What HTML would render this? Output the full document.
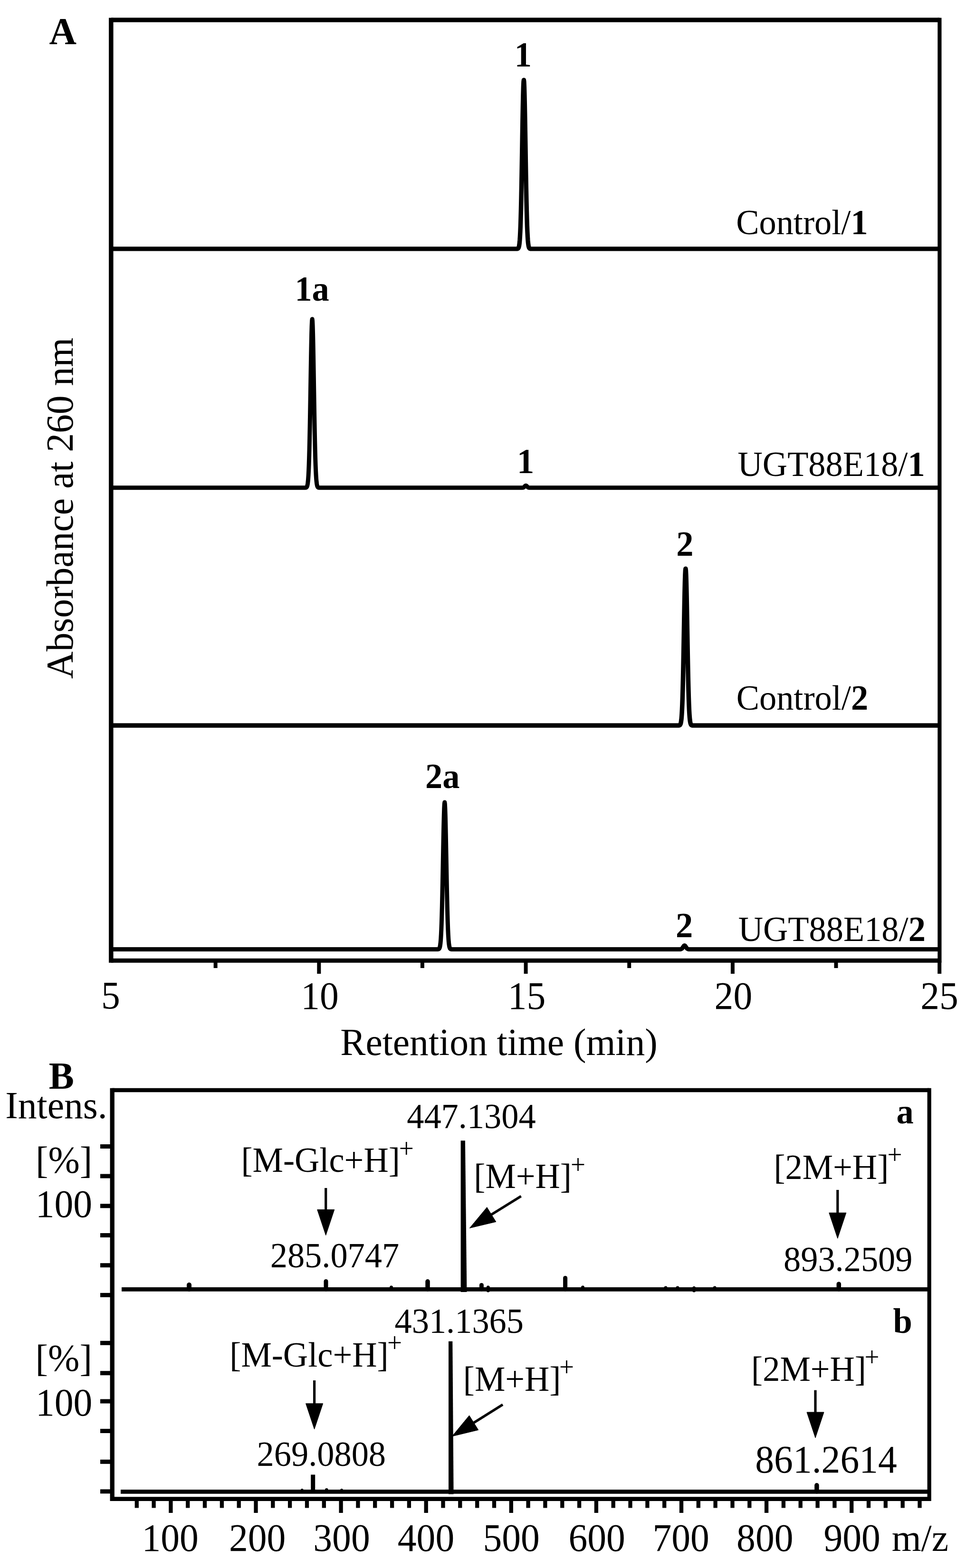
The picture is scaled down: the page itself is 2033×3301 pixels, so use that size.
<!DOCTYPE html>
<html><head><meta charset="utf-8"><title>Figure</title>
<style>
html,body{margin:0;padding:0;background:#fff;overflow:hidden;}
svg{display:block;}
text{font-family:"Liberation Serif",serif;fill:#000;}
</style></head>
<body>
<svg width="2033" height="3301" viewBox="0 0 2033 3301" stroke="#000" fill="#000">
<rect x="0" y="0" width="2033" height="3301" fill="#fff" stroke="none"/>
<g stroke="#000" fill="#000">
<line x1="233.8" y1="37.4" x2="233.8" y2="2026.8" stroke-width="9.5" stroke-linecap="butt"/>
<line x1="1977.4" y1="37.4" x2="1977.4" y2="2026.8" stroke-width="8.2" stroke-linecap="butt"/>
<line x1="233.8" y1="42.1" x2="1977.4" y2="42.1" stroke-width="9.5" stroke-linecap="butt"/>
<line x1="233.8" y1="2022.3" x2="1977.4" y2="2022.3" stroke-width="9" stroke-linecap="butt"/>
<line x1="671.3" y1="2022.3" x2="671.3" y2="2050.0" stroke-width="8" stroke-linecap="butt"/>
<line x1="1106.6" y1="2022.3" x2="1106.6" y2="2050.0" stroke-width="8" stroke-linecap="butt"/>
<line x1="1541.9" y1="2022.3" x2="1541.9" y2="2050.0" stroke-width="8" stroke-linecap="butt"/>
<line x1="1977.2" y1="2022.3" x2="1977.2" y2="2050.0" stroke-width="8" stroke-linecap="butt"/>
<line x1="453.6" y1="2022.3" x2="453.6" y2="2038.0" stroke-width="8" stroke-linecap="butt"/>
<line x1="888.9" y1="2022.3" x2="888.9" y2="2038.0" stroke-width="8" stroke-linecap="butt"/>
<line x1="1324.2" y1="2022.3" x2="1324.2" y2="2038.0" stroke-width="8" stroke-linecap="butt"/>
<line x1="1759.5" y1="2022.3" x2="1759.5" y2="2038.0" stroke-width="8" stroke-linecap="butt"/>
<polyline points="233.8,523.9 1081.4,523.9 1081.9,523.9 1082.4,523.9 1082.9,523.9 1083.4,523.9 1083.9,523.9 1084.4,523.9 1084.9,523.9 1085.4,523.9 1085.9,523.9 1086.4,523.9 1086.9,523.9 1087.4,523.9 1087.9,523.8 1088.4,523.8 1088.9,523.7 1089.4,523.5 1089.9,523.3 1090.4,522.9 1090.9,522.3 1091.4,521.4 1091.9,520.0 1092.4,517.9 1092.9,515.0 1093.4,510.9 1093.9,505.3 1094.4,497.8 1094.9,488.1 1095.4,475.8 1095.9,460.5 1096.4,442.1 1096.9,420.5 1097.4,395.8 1097.9,368.3 1098.4,338.9 1098.9,308.3 1099.4,277.7 1099.9,248.4 1100.4,222.0 1100.9,199.6 1101.4,182.6 1101.9,172.0 1102.4,168.4 1102.9,172.0 1103.4,182.6 1103.9,199.6 1104.4,222.0 1104.9,248.4 1105.4,277.7 1105.9,308.3 1106.4,338.9 1106.9,368.3 1107.4,395.8 1107.9,420.5 1108.4,442.1 1108.9,460.5 1109.4,475.8 1109.9,488.1 1110.4,497.8 1110.9,505.3 1111.4,510.9 1111.9,515.0 1112.4,517.9 1112.9,520.0 1113.4,521.4 1113.9,522.3 1114.4,522.9 1114.9,523.3 1115.4,523.5 1115.9,523.7 1116.4,523.8 1116.9,523.8 1117.4,523.9 1117.9,523.9 1118.4,523.9 1118.9,523.9 1119.4,523.9 1119.9,523.9 1120.4,523.9 1120.9,523.9 1121.4,523.9 1121.9,523.9 1122.4,523.9 1122.9,523.9 1123.4,523.9 1977.4,523.9" fill="none" stroke-width="9.4" stroke-linejoin="round"/>
<polyline points="233.8,1026.8 636.1,1026.8 636.6,1026.8 637.1,1026.8 637.6,1026.8 638.1,1026.8 638.6,1026.8 639.1,1026.8 639.6,1026.8 640.1,1026.8 640.6,1026.8 641.1,1026.8 641.6,1026.8 642.1,1026.8 642.6,1026.7 643.1,1026.7 643.6,1026.6 644.1,1026.4 644.6,1026.2 645.1,1025.8 645.6,1025.2 646.1,1024.3 646.6,1022.9 647.1,1020.8 647.6,1017.9 648.1,1013.8 648.6,1008.2 649.1,1000.8 649.6,991.1 650.1,978.8 650.6,963.5 651.1,945.1 651.6,923.5 652.1,898.8 652.6,871.5 653.1,842.0 653.6,811.5 654.1,780.9 654.6,751.7 655.1,725.3 655.6,702.9 656.1,686.0 656.6,675.4 657.1,671.8 657.6,675.4 658.1,686.0 658.6,702.9 659.1,725.3 659.6,751.7 660.1,780.9 660.6,811.5 661.1,842.0 661.6,871.5 662.1,898.8 662.6,923.5 663.1,945.1 663.6,963.5 664.1,978.8 664.6,991.1 665.1,1000.8 665.6,1008.2 666.1,1013.8 666.6,1017.9 667.1,1020.8 667.6,1022.9 668.1,1024.3 668.6,1025.2 669.1,1025.8 669.6,1026.2 670.1,1026.4 670.6,1026.6 671.1,1026.7 671.6,1026.7 672.1,1026.8 672.6,1026.8 673.1,1026.8 673.6,1026.8 674.1,1026.8 674.6,1026.8 675.1,1026.8 675.6,1026.8 676.1,1026.8 676.6,1026.8 677.1,1026.8 677.6,1026.8 678.1,1026.8 1091.7,1026.8 1092.2,1026.8 1092.7,1026.8 1093.2,1026.8 1093.7,1026.8 1094.2,1026.8 1094.7,1026.8 1095.2,1026.8 1095.7,1026.8 1096.2,1026.8 1096.7,1026.8 1097.2,1026.8 1097.7,1026.8 1098.2,1026.8 1098.7,1026.8 1099.2,1026.8 1099.7,1026.7 1100.2,1026.6 1100.7,1026.5 1101.2,1026.4 1101.7,1026.2 1102.2,1025.9 1102.7,1025.5 1103.2,1025.1 1103.7,1024.6 1104.2,1024.1 1104.7,1023.5 1105.2,1023.0 1105.7,1022.6 1106.2,1022.4 1106.7,1022.3 1107.2,1022.4 1107.7,1022.6 1108.2,1023.0 1108.7,1023.5 1109.2,1024.1 1109.7,1024.6 1110.2,1025.1 1110.7,1025.5 1111.2,1025.9 1111.7,1026.2 1112.2,1026.4 1112.7,1026.5 1113.2,1026.6 1113.7,1026.7 1114.2,1026.8 1114.7,1026.8 1115.2,1026.8 1115.7,1026.8 1116.2,1026.8 1116.7,1026.8 1117.2,1026.8 1117.7,1026.8 1118.2,1026.8 1118.7,1026.8 1119.2,1026.8 1119.7,1026.8 1120.2,1026.8 1120.7,1026.8 1121.2,1026.8 1121.7,1026.8 1977.4,1026.8" fill="none" stroke-width="9.0" stroke-linejoin="round"/>
<polyline points="233.8,1527.3 1421.9,1527.3 1422.4,1527.3 1422.9,1527.3 1423.4,1527.3 1423.9,1527.3 1424.4,1527.3 1424.9,1527.3 1425.4,1527.3 1425.9,1527.3 1426.4,1527.3 1426.9,1527.3 1427.4,1527.3 1427.9,1527.3 1428.4,1527.2 1428.9,1527.2 1429.4,1527.1 1429.9,1527.0 1430.4,1526.7 1430.9,1526.4 1431.4,1525.8 1431.9,1524.9 1432.4,1523.6 1432.9,1521.7 1433.4,1519.0 1433.9,1515.2 1434.4,1510.0 1434.9,1503.1 1435.4,1494.1 1435.9,1482.6 1436.4,1468.5 1436.9,1451.4 1437.4,1431.3 1437.9,1408.4 1438.4,1382.9 1438.9,1355.6 1439.4,1327.1 1439.9,1298.8 1440.4,1271.6 1440.9,1247.0 1441.4,1226.3 1441.9,1210.5 1442.4,1200.7 1442.9,1197.3 1443.4,1200.7 1443.9,1210.5 1444.4,1226.3 1444.9,1247.0 1445.4,1271.6 1445.9,1298.8 1446.4,1327.1 1446.9,1355.6 1447.4,1382.9 1447.9,1408.4 1448.4,1431.3 1448.9,1451.4 1449.4,1468.5 1449.9,1482.6 1450.4,1494.1 1450.9,1503.1 1451.4,1510.0 1451.9,1515.2 1452.4,1519.0 1452.9,1521.7 1453.4,1523.6 1453.9,1524.9 1454.4,1525.8 1454.9,1526.4 1455.4,1526.7 1455.9,1527.0 1456.4,1527.1 1456.9,1527.2 1457.4,1527.2 1457.9,1527.3 1458.4,1527.3 1458.9,1527.3 1459.4,1527.3 1459.9,1527.3 1460.4,1527.3 1460.9,1527.3 1461.4,1527.3 1461.9,1527.3 1462.4,1527.3 1462.9,1527.3 1463.4,1527.3 1463.9,1527.3 1977.4,1527.3" fill="none" stroke-width="9.5" stroke-linejoin="round"/>
<polyline points="233.8,1998.5 914.8,1998.5 915.3,1998.5 915.8,1998.5 916.3,1998.5 916.8,1998.5 917.3,1998.5 917.8,1998.5 918.3,1998.5 918.8,1998.5 919.3,1998.5 919.8,1998.5 920.3,1998.5 920.8,1998.5 921.3,1998.4 921.8,1998.4 922.3,1998.3 922.8,1998.2 923.3,1998.0 923.8,1997.6 924.3,1997.1 924.8,1996.3 925.3,1995.1 925.8,1993.3 926.3,1990.7 926.8,1987.2 927.3,1982.3 927.8,1975.8 928.3,1967.3 928.8,1956.6 929.3,1943.3 929.8,1927.3 930.3,1908.5 930.8,1886.9 931.3,1863.1 931.8,1837.4 932.3,1810.8 932.8,1784.1 933.3,1758.7 933.8,1735.6 934.3,1716.2 934.8,1701.4 935.3,1692.1 935.8,1689.0 936.3,1692.1 936.8,1701.4 937.3,1716.2 937.8,1735.6 938.3,1758.7 938.8,1784.1 939.3,1810.8 939.8,1837.4 940.3,1863.1 940.8,1886.9 941.3,1908.5 941.8,1927.3 942.3,1943.3 942.8,1956.6 943.3,1967.3 943.8,1975.8 944.3,1982.3 944.8,1987.2 945.3,1990.7 945.8,1993.3 946.3,1995.1 946.8,1996.3 947.3,1997.1 947.8,1997.6 948.3,1998.0 948.8,1998.2 949.3,1998.3 949.8,1998.4 950.3,1998.4 950.8,1998.5 951.3,1998.5 951.8,1998.5 952.3,1998.5 952.8,1998.5 953.3,1998.5 953.8,1998.5 954.3,1998.5 954.8,1998.5 955.3,1998.5 955.8,1998.5 956.3,1998.5 956.8,1998.5 1422.6,1998.5 1423.1,1998.5 1423.6,1998.5 1424.1,1998.5 1424.6,1998.5 1425.1,1998.5 1425.6,1998.5 1426.1,1998.5 1426.6,1998.5 1427.1,1998.5 1427.6,1998.5 1428.1,1998.5 1428.6,1998.5 1429.1,1998.5 1429.6,1998.5 1430.1,1998.5 1430.6,1998.5 1431.1,1998.4 1431.6,1998.4 1432.1,1998.4 1432.6,1998.3 1433.1,1998.1 1433.6,1998.0 1434.1,1997.7 1434.6,1997.4 1435.1,1997.0 1435.6,1996.5 1436.1,1995.9 1436.6,1995.2 1437.1,1994.4 1437.6,1993.6 1438.1,1992.8 1438.6,1992.1 1439.1,1991.4 1439.6,1990.9 1440.1,1990.6 1440.6,1990.5 1441.1,1990.6 1441.6,1990.9 1442.1,1991.4 1442.6,1992.1 1443.1,1992.8 1443.6,1993.6 1444.1,1994.4 1444.6,1995.2 1445.1,1995.9 1445.6,1996.5 1446.1,1997.0 1446.6,1997.4 1447.1,1997.7 1447.6,1998.0 1448.1,1998.1 1448.6,1998.3 1449.1,1998.4 1449.6,1998.4 1450.1,1998.4 1450.6,1998.5 1451.1,1998.5 1451.6,1998.5 1452.1,1998.5 1452.6,1998.5 1453.1,1998.5 1453.6,1998.5 1454.1,1998.5 1454.6,1998.5 1455.1,1998.5 1455.6,1998.5 1456.1,1998.5 1456.6,1998.5 1457.1,1998.5 1457.6,1998.5 1458.1,1998.5 1458.6,1998.5 1977.4,1998.5" fill="none" stroke-width="9.0" stroke-linejoin="round"/>
<line x1="236.2" y1="2290.8" x2="236.2" y2="3160.0" stroke-width="9.3" stroke-linecap="butt"/>
<line x1="1955.7" y1="2290.8" x2="1955.7" y2="3160.0" stroke-width="8.2" stroke-linecap="butt"/>
<line x1="236.2" y1="2295.0" x2="1955.7" y2="2295.0" stroke-width="8.4" stroke-linecap="butt"/>
<line x1="236.2" y1="3155.7" x2="1955.7" y2="3155.7" stroke-width="8.7" stroke-linecap="butt"/>
<line x1="211.0" y1="2413.5" x2="236.2" y2="2413.5" stroke-width="9" stroke-linecap="butt"/>
<line x1="211.0" y1="2476.0" x2="236.2" y2="2476.0" stroke-width="9" stroke-linecap="butt"/>
<line x1="211.0" y1="2538.8" x2="236.2" y2="2538.8" stroke-width="9" stroke-linecap="butt"/>
<line x1="211.0" y1="2600.5" x2="236.2" y2="2600.5" stroke-width="9" stroke-linecap="butt"/>
<line x1="211.0" y1="2663.7" x2="236.2" y2="2663.7" stroke-width="9" stroke-linecap="butt"/>
<line x1="211.0" y1="2726.4" x2="236.2" y2="2726.4" stroke-width="9" stroke-linecap="butt"/>
<line x1="211.0" y1="2827.3" x2="236.2" y2="2827.3" stroke-width="9" stroke-linecap="butt"/>
<line x1="211.0" y1="2890.7" x2="236.2" y2="2890.7" stroke-width="9" stroke-linecap="butt"/>
<line x1="211.0" y1="2950.0" x2="236.2" y2="2950.0" stroke-width="9" stroke-linecap="butt"/>
<line x1="211.0" y1="3012.5" x2="236.2" y2="3012.5" stroke-width="9" stroke-linecap="butt"/>
<line x1="211.0" y1="3077.3" x2="236.2" y2="3077.3" stroke-width="9" stroke-linecap="butt"/>
<line x1="211.0" y1="3139.8" x2="236.2" y2="3139.8" stroke-width="9" stroke-linecap="butt"/>
<line x1="287.8" y1="3155.7" x2="287.8" y2="3174.5" stroke-width="8.3" stroke-linecap="butt"/>
<line x1="323.6" y1="3155.7" x2="323.6" y2="3174.5" stroke-width="8.3" stroke-linecap="butt"/>
<line x1="359.4" y1="3155.7" x2="359.4" y2="3185.0" stroke-width="8.3" stroke-linecap="butt"/>
<line x1="395.2" y1="3155.7" x2="395.2" y2="3174.5" stroke-width="8.3" stroke-linecap="butt"/>
<line x1="431.0" y1="3155.7" x2="431.0" y2="3174.5" stroke-width="8.3" stroke-linecap="butt"/>
<line x1="466.9" y1="3155.7" x2="466.9" y2="3174.5" stroke-width="8.3" stroke-linecap="butt"/>
<line x1="502.7" y1="3155.7" x2="502.7" y2="3174.5" stroke-width="8.3" stroke-linecap="butt"/>
<line x1="538.5" y1="3155.7" x2="538.5" y2="3185.0" stroke-width="8.3" stroke-linecap="butt"/>
<line x1="574.3" y1="3155.7" x2="574.3" y2="3174.5" stroke-width="8.3" stroke-linecap="butt"/>
<line x1="610.1" y1="3155.7" x2="610.1" y2="3174.5" stroke-width="8.3" stroke-linecap="butt"/>
<line x1="646.0" y1="3155.7" x2="646.0" y2="3174.5" stroke-width="8.3" stroke-linecap="butt"/>
<line x1="681.8" y1="3155.7" x2="681.8" y2="3174.5" stroke-width="8.3" stroke-linecap="butt"/>
<line x1="717.6" y1="3155.7" x2="717.6" y2="3185.0" stroke-width="8.3" stroke-linecap="butt"/>
<line x1="753.4" y1="3155.7" x2="753.4" y2="3174.5" stroke-width="8.3" stroke-linecap="butt"/>
<line x1="789.2" y1="3155.7" x2="789.2" y2="3174.5" stroke-width="8.3" stroke-linecap="butt"/>
<line x1="825.1" y1="3155.7" x2="825.1" y2="3174.5" stroke-width="8.3" stroke-linecap="butt"/>
<line x1="860.9" y1="3155.7" x2="860.9" y2="3174.5" stroke-width="8.3" stroke-linecap="butt"/>
<line x1="896.7" y1="3155.7" x2="896.7" y2="3185.0" stroke-width="8.3" stroke-linecap="butt"/>
<line x1="932.5" y1="3155.7" x2="932.5" y2="3174.5" stroke-width="8.3" stroke-linecap="butt"/>
<line x1="968.3" y1="3155.7" x2="968.3" y2="3174.5" stroke-width="8.3" stroke-linecap="butt"/>
<line x1="1004.2" y1="3155.7" x2="1004.2" y2="3174.5" stroke-width="8.3" stroke-linecap="butt"/>
<line x1="1040.0" y1="3155.7" x2="1040.0" y2="3174.5" stroke-width="8.3" stroke-linecap="butt"/>
<line x1="1075.8" y1="3155.7" x2="1075.8" y2="3185.0" stroke-width="8.3" stroke-linecap="butt"/>
<line x1="1111.6" y1="3155.7" x2="1111.6" y2="3174.5" stroke-width="8.3" stroke-linecap="butt"/>
<line x1="1147.4" y1="3155.7" x2="1147.4" y2="3174.5" stroke-width="8.3" stroke-linecap="butt"/>
<line x1="1183.3" y1="3155.7" x2="1183.3" y2="3174.5" stroke-width="8.3" stroke-linecap="butt"/>
<line x1="1219.1" y1="3155.7" x2="1219.1" y2="3174.5" stroke-width="8.3" stroke-linecap="butt"/>
<line x1="1254.9" y1="3155.7" x2="1254.9" y2="3185.0" stroke-width="8.3" stroke-linecap="butt"/>
<line x1="1290.7" y1="3155.7" x2="1290.7" y2="3174.5" stroke-width="8.3" stroke-linecap="butt"/>
<line x1="1326.5" y1="3155.7" x2="1326.5" y2="3174.5" stroke-width="8.3" stroke-linecap="butt"/>
<line x1="1362.4" y1="3155.7" x2="1362.4" y2="3174.5" stroke-width="8.3" stroke-linecap="butt"/>
<line x1="1398.2" y1="3155.7" x2="1398.2" y2="3174.5" stroke-width="8.3" stroke-linecap="butt"/>
<line x1="1434.0" y1="3155.7" x2="1434.0" y2="3185.0" stroke-width="8.3" stroke-linecap="butt"/>
<line x1="1469.8" y1="3155.7" x2="1469.8" y2="3174.5" stroke-width="8.3" stroke-linecap="butt"/>
<line x1="1505.6" y1="3155.7" x2="1505.6" y2="3174.5" stroke-width="8.3" stroke-linecap="butt"/>
<line x1="1541.5" y1="3155.7" x2="1541.5" y2="3174.5" stroke-width="8.3" stroke-linecap="butt"/>
<line x1="1577.3" y1="3155.7" x2="1577.3" y2="3174.5" stroke-width="8.3" stroke-linecap="butt"/>
<line x1="1613.1" y1="3155.7" x2="1613.1" y2="3185.0" stroke-width="8.3" stroke-linecap="butt"/>
<line x1="1648.9" y1="3155.7" x2="1648.9" y2="3174.5" stroke-width="8.3" stroke-linecap="butt"/>
<line x1="1684.7" y1="3155.7" x2="1684.7" y2="3174.5" stroke-width="8.3" stroke-linecap="butt"/>
<line x1="1720.6" y1="3155.7" x2="1720.6" y2="3174.5" stroke-width="8.3" stroke-linecap="butt"/>
<line x1="1756.4" y1="3155.7" x2="1756.4" y2="3174.5" stroke-width="8.3" stroke-linecap="butt"/>
<line x1="1792.2" y1="3155.7" x2="1792.2" y2="3185.0" stroke-width="8.3" stroke-linecap="butt"/>
<line x1="1828.0" y1="3155.7" x2="1828.0" y2="3174.5" stroke-width="8.3" stroke-linecap="butt"/>
<line x1="1863.8" y1="3155.7" x2="1863.8" y2="3174.5" stroke-width="8.3" stroke-linecap="butt"/>
<line x1="1899.7" y1="3155.7" x2="1899.7" y2="3174.5" stroke-width="8.3" stroke-linecap="butt"/>
<line x1="1935.5" y1="3155.7" x2="1935.5" y2="3174.5" stroke-width="8.3" stroke-linecap="butt"/>
<line x1="256.0" y1="2714.4" x2="1955.7" y2="2714.4" stroke-width="8.7" stroke-linecap="butt"/>
<line x1="254.0" y1="3140.3" x2="1955.7" y2="3140.3" stroke-width="8.7" stroke-linecap="butt"/>
<line x1="398.0" y1="2705.0" x2="398.0" y2="2714.0" stroke-width="10" stroke-linecap="round"/>
<line x1="686.0" y1="2697.5" x2="686.0" y2="2714.0" stroke-width="9" stroke-linecap="round"/>
<line x1="823.5" y1="2710.0" x2="823.5" y2="2714.0" stroke-width="7" stroke-linecap="round"/>
<line x1="900.0" y1="2697.8" x2="900.0" y2="2714.0" stroke-width="9.5" stroke-linecap="round"/>
<polygon points="969.6,2401.3 978.9,2401.3 982.4,2720 969.6,2720" stroke="none"/>
<line x1="1013.4" y1="2705.5" x2="1013.4" y2="2714.0" stroke-width="9" stroke-linecap="round"/>
<line x1="1027.3" y1="2710.0" x2="1027.3" y2="2717.0" stroke-width="7" stroke-linecap="round"/>
<line x1="1189.6" y1="2690.5" x2="1189.6" y2="2714.0" stroke-width="9" stroke-linecap="round"/>
<line x1="1226.5" y1="2710.0" x2="1226.5" y2="2714.0" stroke-width="7" stroke-linecap="round"/>
<line x1="1401.0" y1="2711.0" x2="1401.0" y2="2714.0" stroke-width="7" stroke-linecap="round"/>
<line x1="1426.0" y1="2711.0" x2="1426.0" y2="2714.0" stroke-width="7" stroke-linecap="round"/>
<line x1="1504.2" y1="2711.0" x2="1504.2" y2="2714.0" stroke-width="7" stroke-linecap="round"/>
<line x1="1460.6" y1="2711.5" x2="1460.6" y2="2717.0" stroke-width="7" stroke-linecap="round"/>
<line x1="1765.3" y1="2703.2" x2="1765.3" y2="2714.0" stroke-width="9.5" stroke-linecap="round"/>
<line x1="658.7" y1="3104.5" x2="658.7" y2="3140.0" stroke-width="9" stroke-linecap="butt"/>
<line x1="635.7" y1="3137.0" x2="635.7" y2="3140.0" stroke-width="6" stroke-linecap="round"/>
<line x1="687.3" y1="3136.2" x2="687.3" y2="3140.0" stroke-width="6.5" stroke-linecap="round"/>
<line x1="719.0" y1="3137.0" x2="719.0" y2="3140.0" stroke-width="6" stroke-linecap="round"/>
<polygon points="944.0,2823.8 952.3,2823.8 954.6,3145.6 944.0,3145.6" stroke="none"/>
<line x1="1718.9" y1="3126.8" x2="1718.9" y2="3140.0" stroke-width="9.5" stroke-linecap="round"/>
<line x1="685.7" y1="2501.0" x2="685.7" y2="2550.6" stroke-width="5.2" stroke-linecap="butt"/>
<polygon points="685.7,2600.6 667.7,2546.6 703.7,2546.6"/>
<line x1="1762.8" y1="2505.0" x2="1762.8" y2="2557.2" stroke-width="5.2" stroke-linecap="butt"/>
<polygon points="1762.8,2607.2 1744.8,2553.2 1780.8,2553.2"/>
<line x1="1096.6" y1="2518.3" x2="1030.9" y2="2559.0" stroke-width="5.2" stroke-linecap="butt"/>
<polygon points="988.4,2585.4 1024.8,2541.6 1043.8,2572.2"/>
<line x1="661.6" y1="2906.0" x2="661.6" y2="2958.8" stroke-width="5.2" stroke-linecap="butt"/>
<polygon points="661.6,3008.8 643.6,2954.8 679.6,2954.8"/>
<line x1="1716.0" y1="2926.6" x2="1716.0" y2="2977.0" stroke-width="5.2" stroke-linecap="butt"/>
<polygon points="1716.0,3027.0 1698.0,2973.0 1734.0,2973.0"/>
<line x1="1058.0" y1="2957.0" x2="993.8" y2="2997.3" stroke-width="5.2" stroke-linecap="butt"/>
<polygon points="951.4,3023.8 987.6,2979.9 1006.7,3010.4"/>
</g>
<g stroke="none" fill="#000">
<text transform="translate(103.5,93.0) scale(1,1.02)" font-size="79.6" font-weight="bold">A</text>
<text transform="translate(1082.7,139.5) scale(1,1.03)" font-size="72.4" font-weight="bold">1</text>
<text transform="translate(620.4,633.4) scale(1,1.02)" font-size="72.4" font-weight="bold">1a</text>
<text transform="translate(1088.1,995.6) scale(1,1.03)" font-size="72.4" font-weight="bold">1</text>
<text transform="translate(1423.3,1170.0) scale(1,1.03)" font-size="72.4" font-weight="bold">2</text>
<text transform="translate(895.1,1658.5) scale(1,1.02)" font-size="72.4" font-weight="bold">2a</text>
<text transform="translate(1422.1,1973.3) scale(1,1.03)" font-size="72.4" font-weight="bold">2</text>
<text transform="translate(1549.2,492.6) scale(1,1.02)" font-size="72.4">Control/<tspan font-weight="bold">1</tspan></text>
<text transform="translate(1552.6,1001.5) scale(1,1.02)" font-size="72.4">UGT88E18/<tspan font-weight="bold">1</tspan></text>
<text transform="translate(1549.7,1493.8) scale(1,1.02)" font-size="72.4">Control/<tspan font-weight="bold">2</tspan></text>
<text transform="translate(1553.8,1981.3) scale(1,1.02)" font-size="72.4">UGT88E18/<tspan font-weight="bold">2</tspan></text>
<text transform="translate(212.9,2123.3) scale(1,1.03)" font-size="79.6">5</text>
<text transform="translate(633.2,2123.5) scale(1,1.03)" font-size="79.6">10</text>
<text transform="translate(1068.8,2123.5) scale(1,1.03)" font-size="79.6">15</text>
<text transform="translate(1503.6,2123.5) scale(1,1.03)" font-size="79.6">20</text>
<text transform="translate(1937.3,2123.5) scale(1,1.03)" font-size="79.6">25</text>
<text transform="translate(716.3,2221.0) scale(1,1.02)" font-size="79.6">Retention time (min)</text>
<text transform="translate(152.7,1070.0) rotate(-90) scale(1,1.02) translate(-359.0,0)" font-size="79.6">Absorbance at 260 nm</text>
<text transform="translate(298.5,3265.0) scale(1,1.03)" font-size="79.6">100</text>
<text transform="translate(481.9,3265.0) scale(1,1.03)" font-size="79.6">200</text>
<text transform="translate(659.3,3265.0) scale(1,1.03)" font-size="79.6">300</text>
<text transform="translate(836.8,3265.0) scale(1,1.03)" font-size="79.6">400</text>
<text transform="translate(1016.5,3265.0) scale(1,1.03)" font-size="79.6">500</text>
<text transform="translate(1196.4,3265.0) scale(1,1.03)" font-size="79.6">600</text>
<text transform="translate(1373.5,3265.0) scale(1,1.03)" font-size="79.6">700</text>
<text transform="translate(1550.1,3265.0) scale(1,1.03)" font-size="79.6">800</text>
<text transform="translate(1733.5,3265.0) scale(1,1.03)" font-size="79.6">900</text>
<text transform="translate(1876.7,3265.0) scale(1,1.02)" font-size="79.6">m/z</text>
<text transform="translate(102.8,2292.0) scale(1,1.02)" font-size="79.6" font-weight="bold">B</text>
<text transform="translate(11.3,2354.0) scale(1,1.02)" font-size="79.6">Intens.</text>
<text transform="translate(75.0,2469.0) scale(1,1.02)" font-size="79.6">[%]</text>
<text transform="translate(74.7,2562.0) scale(1,1.03)" font-size="79.6">100</text>
<text transform="translate(74.6,2886.0) scale(1,1.02)" font-size="79.6">[%]</text>
<text transform="translate(74.9,2980.0) scale(1,1.03)" font-size="79.6">100</text>
<text transform="translate(856.2,2375.3) scale(1,1.03)" font-size="72.4">447.1304</text>
<text transform="translate(507.5,2466.9) scale(1,1.02)" font-size="72.4">[M-Glc+H]</text>
<text transform="translate(839.8,2436.5) scale(1,1.02)" font-size="55">+</text>
<text transform="translate(568.7,2667.8) scale(1,1.03)" font-size="72.4">285.0747</text>
<text transform="translate(997.3,2501.2) scale(1,1.02)" font-size="72.4">[M+H]</text>
<text transform="translate(1201.1,2470.9) scale(1,1.02)" font-size="55">+</text>
<text transform="translate(1628.4,2481.5) scale(1,1.02)" font-size="72.4">[2M+H]</text>
<text transform="translate(1867.5,2449.5) scale(1,1.02)" font-size="55">+</text>
<text transform="translate(1649.0,2676.2) scale(1,1.03)" font-size="72.4">893.2509</text>
<text transform="translate(1886.4,2365.4) scale(1,1.02)" font-size="72.4" font-weight="bold">a</text>
<text transform="translate(830.5,2806.3) scale(1,1.03)" font-size="72.4">431.1365</text>
<text transform="translate(483.3,2877.0) scale(1,1.02)" font-size="72.4">[M-Glc+H]</text>
<text transform="translate(814.9,2845.9) scale(1,1.02)" font-size="55">+</text>
<text transform="translate(540.6,3085.6) scale(1,1.03)" font-size="72.4">269.0808</text>
<text transform="translate(974.8,2928.0) scale(1,1.02)" font-size="72.4">[M+H]</text>
<text transform="translate(1177.1,2896.9) scale(1,1.02)" font-size="55">+</text>
<text transform="translate(1581.1,2907.1) scale(1,1.02)" font-size="72.4">[2M+H]</text>
<text transform="translate(1819.6,2875.6) scale(1,1.02)" font-size="55">+</text>
<text transform="translate(1589.3,3099.5) scale(1,1.03)" font-size="79.6">861.2614</text>
<text transform="translate(1879.4,2805.6) scale(1,1.02)" font-size="72.4" font-weight="bold">b</text>
</g>
</svg>
</body></html>
